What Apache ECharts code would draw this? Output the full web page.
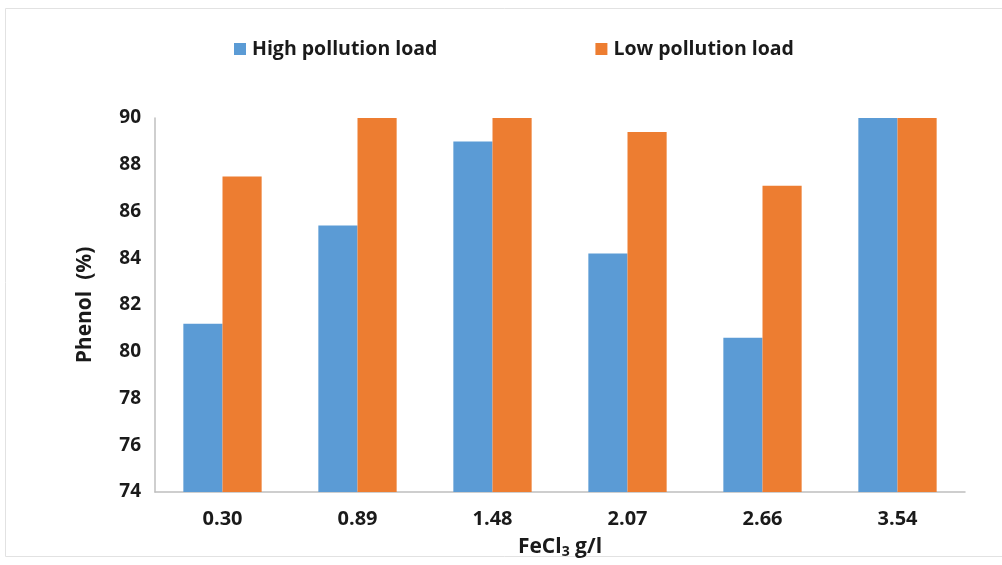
<!DOCTYPE html>
<html>
<head>
<meta charset="utf-8">
<script src="https://cdn.jsdelivr.net/npm/echarts@6/dist/echarts.min.js"></script>
<style>
  html, body { margin: 0; padding: 0; background: #fff; }
  #chart { width: 1002px; height: 565px; }
</style>
</head>
<body>
<div id="chart"></div>
<script>
// FeCl3 dose (g/l) on the category axis
const doses = ['0.30', '0.89', '1.48', '2.07', '2.66', '3.54'];
// Phenol removal (%)
const highLoad = [81.2, 85.4, 89.0, 84.2, 80.6, 90.0];
const lowLoad = [87.5, 90.0, 90.0, 89.4, 87.1, 90.0];
const yTicks = [74, 76, 78, 80, 82, 84, 86, 88, 90];

const font = '"Open Sans", sans-serif';
const ink = '#1a1a1a';
const chart = echarts.init(document.getElementById('chart'));

chart.setOption({
  backgroundColor: '#fff',
  animation: false,
  graphic: [{
    type: 'rect',
    shape: { x: 5.5, y: 8.5, width: 1010, height: 548 },
    style: { fill: 'none', stroke: '#e2e2e2', lineWidth: 1 },
    silent: true
  }],
  legend: {
    top: 34,
    left: 229,
    itemGap: 158,
    itemWidth: 12,
    itemHeight: 12,
    icon: 'rect',
    textStyle: { fontFamily: font, fontWeight: 'bold', fontSize: 19.5, color: ink, padding: [0, 0, 0, 1] },
    data: ['High pollution load', 'Low pollution load']
  },
  grid: { left: 155, right: 37, top: 118, bottom: 73, outerBoundsMode: 'none' },
  xAxis: {
    type: 'category',
    data: doses,
    name: '{a|FeCl}{s|3}{a| g/l}',
    nameLocation: 'middle',
    nameGap: 43,
    nameTextStyle: {
      rich: {
        a: { fontFamily: font, fontWeight: 'bold', fontSize: 21, color: ink },
        s: { fontFamily: font, fontWeight: 'bold', fontSize: 14, color: ink, padding: [10, 0, 0, 0] }
      }
    },
    axisLine: { lineStyle: { color: '#bfbfbf', width: 1.5 } },
    axisTick: { show: false },
    axisLabel: { margin: 17, fontFamily: font, fontWeight: 'bold', fontSize: 20, color: ink }
  },
  yAxis: {
    type: 'value',
    min: 74,
    max: 90,
    interval: 2,
    name: 'Phenol  (%)',
    nameLocation: 'middle',
    nameGap: 59,
    nameTextStyle: { fontFamily: font, fontWeight: 'bold', fontSize: 21, color: ink },
    axisLine: { show: true, lineStyle: { color: '#bfbfbf', width: 1.5 } },
    axisTick: { show: false },
    splitLine: { show: false },
    axisLabel: {
      margin: 14,
      fontFamily: font, fontWeight: 'bold', fontSize: 19, color: ink,
      formatter: v => (yTicks.includes(v) ? String(v) : '')
    }
  },
  series: [
    {
      name: 'High pollution load',
      type: 'bar',
      data: highLoad,
      barGap: '0%',
      barCategoryGap: '42%',
      itemStyle: { color: '#5b9bd5' }
    },
    {
      name: 'Low pollution load',
      type: 'bar',
      data: lowLoad,
      itemStyle: { color: '#ed7d31' }
    }
  ]
});
</script>
</body>
</html>
